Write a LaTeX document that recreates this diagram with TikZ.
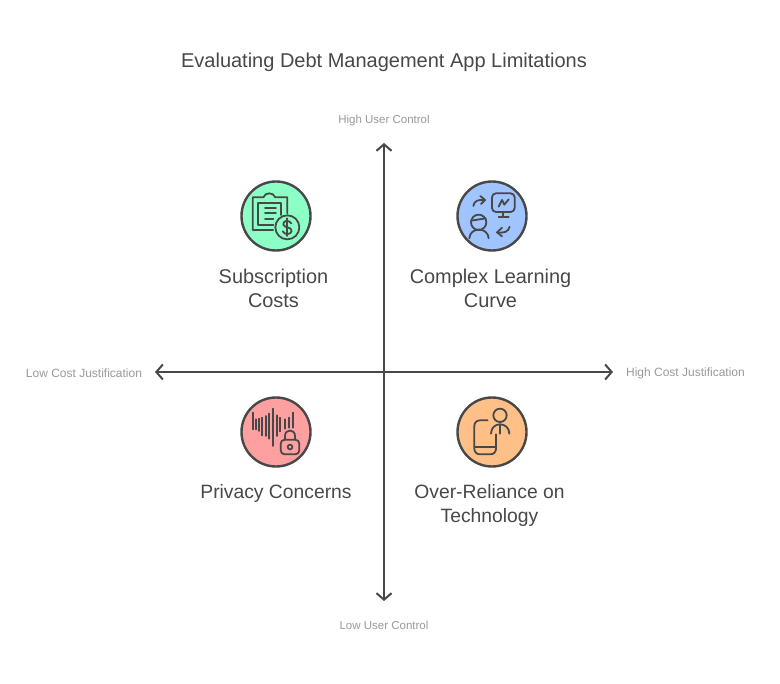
\documentclass[tikz,border=0pt]{standalone}
\usepackage{fontspec}
\setmainfont{Liberation Sans}
\usetikzlibrary{arrows.meta}
\definecolor{ink}{HTML}{484848}
\definecolor{soft}{HTML}{9A9A9A}
\definecolor{cgreen}{HTML}{8CFFC6}
\definecolor{cblue}{HTML}{A0C4FF}
\definecolor{cred}{HTML}{FFA0A0}
\definecolor{corange}{HTML}{FFC088}
\tikzset{
  badge/.style={circle,draw=ink,line width=2.4pt,minimum size=69pt,inner sep=0pt},
  ttl/.style={text=ink,font=\fontsize{20}{24}\selectfont,inner sep=0pt},
  lbl/.style={text=ink,font=\fontsize{19.9}{24}\selectfont,align=center,inner sep=0pt},
  lblb/.style={text=ink,font=\fontsize{19.3}{24}\selectfont,align=center,inner sep=0pt},
  axl/.style={text=soft,font=\fontsize{12}{14}\selectfont,inner sep=0pt},
  axv/.style={text=soft,font=\fontsize{11.5}{14}\selectfont,inner sep=0pt},
  axisline/.style={draw=ink,line width=2pt,{Straight Barb[length=6.5pt,width=15pt,line width=2pt]}-{Straight Barb[length=6.5pt,width=15pt,line width=2pt]}},
  ico/.style={draw=ink,line width=1.8pt,line cap=round,line join=round}
}
\begin{document}
\begin{tikzpicture}[x=1pt,y=-1pt]
\useasboundingbox[fill=white] (0,0) rectangle (780,684);
\node[ttl] (title) at (384,62) {Evaluating Debt Management App Limitations};
\node[axv] (top) at (384,121) {High User Control};
\node[axv] (bottom) at (384,625) {Low User Control};
\node[axl] (left) at (84,373) {Low Cost Justification};
\node[axl] (right) at (685.5,373) {High Cost Justification};
\coordinate (n) at (384,143);
\coordinate (s) at (384,601);
\coordinate (w) at (155,372);
\coordinate (e) at (613,372);
\draw[axisline] (n) -- (s);
\draw[axisline] (w) -- (e);
\node[badge,fill=cgreen] (b1) at (276,216) {};
\node[badge,fill=cblue] (b2) at (492,216) {};
\node[badge,fill=cred] (b3) at (276,432) {};
\node[badge,fill=corange] (b4) at (492,432) {};
\node[lbl] (l1) at (273.5,288.7) {Subscription\\Costs};
\node[lbl] (l2) at (490.5,288.7) {Complex Learning\\Curve};
\node[lblb] (l3) at (276,494) {Privacy Concerns};
\node[lblb] (l4) at (489.5,506) {Over-Reliance on\\Technology};
% icon 1
\begin{scope}[shift={(230,170)},scale=1/3,ico]
\draw (130,180) -- (68,180) -- (68,82) -- (100,82) .. controls (106,66) and (130,66) .. (136,82) -- (172,82) -- (172,130);
\draw (130,165) -- (85,165) -- (85,100) -- (152,100) -- (152,135);
\draw (105,115) -- (138,115) (105,130) -- (138,130) (105,148) -- (130,148);
\draw (172,172) circle (36);
\draw (184,160) .. controls (176,148) and (158,152) .. (160,164) .. controls (162,174) and (186,170) .. (185,183) .. controls (184,194) and (164,196) .. (158,184);
\draw (172,145) -- (172,198);
\end{scope}
% icon 2
\begin{scope}[shift={(446,170)},scale=1/3,ico]
\draw[rounded corners=4] (138,70) rectangle (206,126);
\draw (158,110) -- (168,90) -- (175,104) -- (188,88);
\draw (172,126) -- (172,142) (158,142) -- (188,142);
\draw (82,108) .. controls (84,92) and (98,88) .. (116,90);
\draw (103,78) -- (117,90) -- (105,102);
\draw (98,157) circle (23);
\draw (76,152) -- (119,145);
\draw (70,205) .. controls (72,170) and (126,170) .. (128,205);
\draw (191,170) .. controls (188,186) and (172,190) .. (154,187);
\draw (168,173) -- (153,187) -- (168,199);
\end{scope}
% icon 3
\begin{scope}[shift={(230,386)},scale=1/3,ico]
\draw (68,80) -- (68,130) (78,100) -- (78,130) (88,98) -- (88,135) (97,95) -- (97,148)
      (107,90) -- (107,150) (117,83) -- (117,158) (128,68) -- (128,180) (140,88) -- (140,150)
      (150,95) -- (150,136) (165,100) -- (165,128) (176,95) -- (176,125) (188,80) -- (188,125);
\draw[fill=cred,rounded corners=4] (152,161) rectangle (208,205);
\draw (165,161) -- (165,150) .. controls (165,128) and (195,128) .. (195,150) -- (195,161);
\draw (180,183) circle (7);
\end{scope}
% icon 4
\begin{scope}[shift={(446,386)},scale=1/3,ico]
\draw (125,103) -- (102,103) .. controls (92,103) and (85,110) .. (85,120) -- (85,188) .. controls (85,198) and (92,205) .. (102,205) -- (133,205) .. controls (143,205) and (150,198) .. (150,188) -- (150,145);
\draw (87,182) -- (150,182);
\draw (162,88) circle (20);
\draw (135,143) .. controls (135,125) and (148,115) .. (162,115) .. controls (176,115) and (190,125) .. (190,143);
\draw (162,115) -- (162,143);
\end{scope}
\end{tikzpicture}
\end{document}
